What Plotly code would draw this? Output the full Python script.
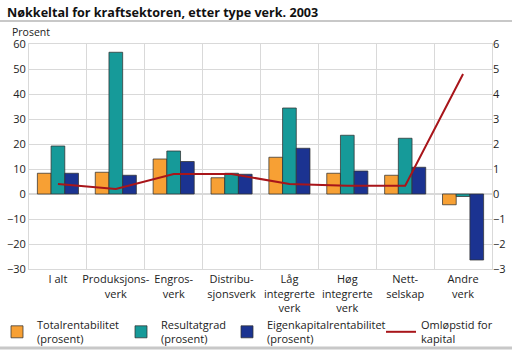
import plotly.graph_objects as go

categories = ["I alt", "Produksjons-<br>verk", "Engros-<br>verk", "Distribu-<br>sjonsverk",
              "Låg<br>integrerte<br>verk", "Høg<br>integrerte<br>verk", "Nett-<br>selskap", "Andre<br>verk"]
totalrent = [8.3, 8.7, 14.0, 6.5, 14.7, 8.3, 7.5, -4.3]
resultatgrad = [19.2, 56.7, 17.2, 8.3, 34.4, 23.5, 22.3, -1.0]
eigenkap = [8.3, 7.5, 13.0, 7.9, 18.3, 9.2, 10.7, -26.4]
omlop = [0.4, 0.2, 0.8, 0.8, 0.4, 0.33, 0.33, 4.8]

left_ticks = [-30, -20, -10, 0, 10, 20, 30, 40, 50, 60]
right_ticks = [-3, -2, -1, 0, 1, 2, 3, 4, 5, 6]

W, H = 512, 350
ml, mr, mt, mb = 29, 20, 44, 81
pw, ph = W - ml - mr, H - mt - mb

def px(x):
    return (x - ml) / pw

def py(y):
    return (H - mb - y) / ph

font = "Open Sans"
fig = go.Figure()
outline = dict(color="rgba(50,50,50,0.75)", width=1)
fig.add_bar(x=categories, y=totalrent, name="Totalrentabilitet<br>(prosent)",
            marker=dict(color="#F7A034", line=outline), legend="legend")
fig.add_bar(x=categories, y=resultatgrad, name="Resultatgrad<br>(prosent)",
            marker=dict(color="#169A99", line=outline), legend="legend2")
fig.add_bar(x=categories, y=eigenkap, name="Eigenkapitalrentabilitet<br>(prosent)",
            marker=dict(color="#1B3391", line=outline), legend="legend3")
fig.add_scatter(x=categories, y=omlop, name="Omløpstid for<br>kapital", mode="lines",
                line=dict(color="#A8151A", width=2), yaxis="y2", legend="legend4")

grid = "#d9d9d9"
leg_common = dict(orientation="v", yanchor="top", font=dict(family=font, size=11, color="#222"),
                  bgcolor="rgba(0,0,0,0)", itemwidth=30, tracegroupgap=0)
ly = py(311)
fig.update_layout(
    width=W, height=H, margin=dict(l=ml, r=mr, t=mt, b=mb, autoexpand=False),
    plot_bgcolor="white", paper_bgcolor="white",
    font=dict(family=font, size=11, color="#222"),
    barmode="group", bargap=0.29, bargroupgap=0,
    title=dict(text="<b>Nøkkeltal for kraftsektoren, etter type verk. 2003</b>",
               x=7 / W, xanchor="left", xref="container", y=1 - 13 / H, yanchor="middle",
               yref="container", font=dict(family=font, size=12.6, color="#111")),
    xaxis=dict(type="category", tickson="boundaries", showgrid=True, gridcolor=grid,
               gridwidth=1, showline=True, linecolor=grid, mirror=True, ticks="",
               tickfont=dict(size=11), ticklen=0, tickangle=0, automargin=False),
    yaxis=dict(range=[-30, 60], tickvals=left_ticks, showgrid=True, gridcolor=grid,
               zeroline=True, zerolinecolor=grid, showline=True, linecolor=grid, mirror=True,
               ticks="", tickfont=dict(size=11), automargin=False),
    yaxis2=dict(range=[-3, 6], tickvals=right_ticks, overlaying="y", side="right",
                showgrid=False, zeroline=False, showline=False, ticks="", tickfont=dict(size=11),
                automargin=False),
    showlegend=True,
    legend=dict(x=px(-3), y=ly, **leg_common),
    legend2=dict(x=px(121), y=ly, **leg_common),
    legend3=dict(x=px(227), y=ly, **leg_common),
    legend4=dict(x=px(381), y=ly, **leg_common),
    annotations=[dict(text="Prosent", xref="paper", yref="paper", x=px(10), y=py(32),
                      xanchor="left", yanchor="middle", showarrow=False,
                      font=dict(family=font, size=10.5, color="#222"))],
    shapes=[
        dict(type="line", xref="paper", yref="paper", x0=px(0), x1=px(W), y0=py(21), y1=py(21),
             line=dict(color="#c8c8c8", width=2)),
        dict(type="line", xref="paper", yref="paper", x0=px(0), x1=px(W), y0=py(348), y1=py(348),
             line=dict(color="#c8c8c8", width=3)),
    ],
)
fig.write_html("out.html")
